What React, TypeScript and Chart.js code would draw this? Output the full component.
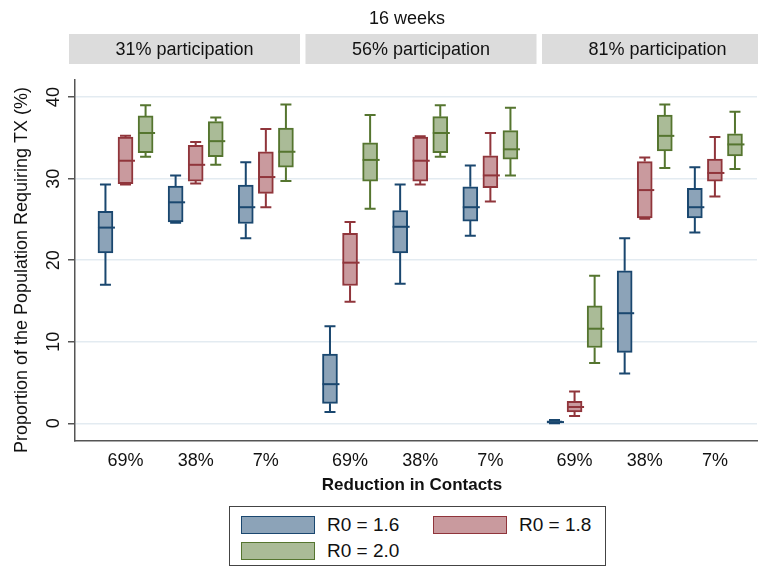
import React, { useEffect, useRef } from "react";
import { Chart, registerables } from "chart.js";

Chart.register(...registerables);

// ---------- DATA ----------
const panelTitle = "16 weeks";
const panels = ["31% participation", "56% participation", "81% participation"];
const reductions = ["69%", "38%", "7%"];
const seriesNames = ["R0 = 1.6", "R0 = 1.8", "R0 = 2.0"];
const yTicks = [0, 10, 20, 30, 40];

// each entry: [min, q1, median, q3, max]; order: panel 1 (69%,38%,7%), panel 2, panel 3
const r0_16 = [
  [17.0, 20.9, 24.0, 26.0, 29.3],
  [24.6, 24.7, 27.1, 29.1, 30.4],
  [22.7, 24.5, 26.5, 29.2, 32.0],
  [1.4, 2.45, 4.8, 8.5, 11.9],
  [17.1, 20.9, 24.1, 26.1, 29.3],
  [23.0, 24.8, 26.5, 29.0, 31.6],
  [0.0, 0.05, 0.15, 0.3, 0.4],
  [6.1, 8.7, 13.5, 18.7, 22.7],
  [23.4, 25.2, 26.5, 28.8, 31.4],
];
const r0_18 = [
  [29.3, 29.4, 32.2, 35.1, 35.25],
  [29.4, 29.7, 31.7, 34.1, 34.5],
  [26.5, 28.2, 30.2, 33.3, 36.1],
  [14.9, 16.9, 19.7, 23.3, 24.7],
  [29.3, 29.7, 32.2, 35.1, 35.2],
  [27.2, 28.9, 30.4, 32.8, 35.6],
  [0.9, 1.4, 2.0, 2.7, 3.9],
  [25.1, 25.2, 28.6, 32.1, 32.6],
  [27.8, 29.7, 30.7, 32.4, 35.1],
];
const r0_20 = [
  [32.7, 33.2, 35.6, 37.7, 39.0],
  [31.7, 32.7, 34.6, 37.0, 37.5],
  [29.7, 31.4, 33.3, 36.2, 39.1],
  [26.3, 29.7, 32.3, 34.4, 37.8],
  [32.7, 33.2, 35.6, 37.6, 39.0],
  [30.4, 32.4, 33.6, 35.9, 38.7],
  [7.4, 9.3, 11.6, 14.4, 18.1],
  [31.3, 33.4, 35.25, 37.8, 39.1],
  [31.2, 32.8, 34.2, 35.5, 38.2],
];

const seriesStats = [r0_16, r0_18, r0_20];

// ---------- STYLE ----------
const FONT = "'Liberation Sans', Arial, Helvetica, sans-serif";
const lineColors = ["#1a476f", "#90353b", "#55752f"];
const fillColors = ["#8ca3b8", "#c99a9e", "#aabb97"];

// layout: x position of a group (panel p, category c) and offset of a series inside the group
const PANEL_STEP = 3.2;
const SERIES_STEP = 0.286;
const groupPos = (i: number) => Math.floor(i / 3) * PANEL_STEP + (i % 3);
const seriesPos = (i: number, s: number) => groupPos(i) + (s - 1) * SERIES_STEP;

const boxPlugin = {
  id: "boxWhiskers",
  beforeDatasetsDraw(chart: any) {
    const ctx = chart.ctx;
    const ys = chart.scales.y;
    chart.data.datasets.forEach((_ds: any, di: number) => {
      const meta = chart.getDatasetMeta(di);
      const stats = seriesStats[di];
      meta.data.forEach((bar: any, i: number) => {
        const [mn, q1, , q3, mx] = stats[i];
        const x = bar.x;
        const cap = 11;
        ctx.save();
        ctx.strokeStyle = lineColors[di];
        ctx.lineWidth = 2;
        ctx.beginPath();
        ctx.moveTo(x, ys.getPixelForValue(q3));
        ctx.lineTo(x, ys.getPixelForValue(mx));
        ctx.moveTo(x - cap / 2, ys.getPixelForValue(mx));
        ctx.lineTo(x + cap / 2, ys.getPixelForValue(mx));
        ctx.moveTo(x, ys.getPixelForValue(q1));
        ctx.lineTo(x, ys.getPixelForValue(mn));
        ctx.moveTo(x - cap / 2, ys.getPixelForValue(mn));
        ctx.lineTo(x + cap / 2, ys.getPixelForValue(mn));
        ctx.stroke();
        ctx.restore();
      });
    });
  },
  afterDatasetsDraw(chart: any) {
    const ctx = chart.ctx;
    const ys = chart.scales.y;
    chart.data.datasets.forEach((_ds: any, di: number) => {
      const meta = chart.getDatasetMeta(di);
      const stats = seriesStats[di];
      meta.data.forEach((bar: any, i: number) => {
        const md = stats[i][2];
        const x = bar.x;
        const w = bar.width;
        const py = ys.getPixelForValue(md);
        ctx.save();
        ctx.strokeStyle = lineColors[di];
        ctx.lineWidth = 2;
        ctx.beginPath();
        ctx.moveTo(x - w / 2, py);
        ctx.lineTo(x + w / 2 + 2, py);
        ctx.stroke();
        ctx.restore();
      });
    });
  },
};

const decorPlugin = {
  id: "decor",
  beforeDraw(chart: any) {
    const ctx = chart.ctx;
    ctx.save();
    ctx.fillStyle = "#ffffff";
    ctx.fillRect(0, 0, chart.width, chart.height);
    // strips
    const stripLeft = 69;
    const stripW = 231;
    const stripGap = 5.5;
    ctx.font = `18px ${FONT}`;
    ctx.textAlign = "center";
    ctx.textBaseline = "middle";
    panels.forEach((label, p) => {
      const x0 = stripLeft + p * (stripW + stripGap);
      ctx.fillStyle = "#dcdcdc";
      ctx.fillRect(x0, 34, stripW, 30);
      ctx.fillStyle = "#111111";
      ctx.fillText(label, x0 + stripW / 2, 50);
    });
    // top title
    ctx.fillText(panelTitle, 407, 19);
    ctx.restore();
  },
  afterDraw(chart: any) {
    const ctx = chart.ctx;
    const ys = chart.scales.y;
    ctx.save();
    ctx.fillStyle = "#111111";
    ctx.textAlign = "center";
    ctx.textBaseline = "middle";
    // rotated y tick labels
    ctx.font = `18px ${FONT}`;
    yTicks.forEach((v) => {
      const py = ys.getPixelForValue(v);
      ctx.save();
      ctx.translate(54, py);
      ctx.rotate(-Math.PI / 2);
      ctx.fillText(String(v), 0, 0);
      ctx.restore();
    });
    // y title
    ctx.save();
    ctx.translate(22, 270);
    ctx.rotate(-Math.PI / 2);
    ctx.font = `18px ${FONT}`;
    ctx.fillText("Proportion of the Population Requiring TX (%)", 0, 0);
    ctx.restore();
    // x title
    ctx.font = `bold 17px ${FONT}`;
    ctx.fillText("Reduction in Contacts", 412, 485);
    ctx.restore();
  },
};

export default function App() {
  const canvasRef = useRef<HTMLCanvasElement | null>(null);

  useEffect(() => {
    if (!canvasRef.current) return;
    const datasets = seriesStats.map((stats, s) => ({
      label: seriesNames[s],
      data: stats.map((st, i) => ({ x: seriesPos(i, s), y: [st[1], st[3]] })),
      backgroundColor: fillColors[s],
      borderColor: lineColors[s],
      borderWidth: 2,
      borderSkipped: false,
      barThickness: 15,
      grouped: false,
    }));
    const chart = new Chart(canvasRef.current, {
      type: "bar",
      data: { datasets: datasets as any },
      plugins: [decorPlugin, boxPlugin],
      options: {
        animation: false,
        responsive: true,
        maintainAspectRatio: false,
        layout: { padding: { top: 80, left: 0, right: 1, bottom: 0 } },
        plugins: {
          legend: { display: false },
          tooltip: { enabled: false },
          title: { display: false },
        },
        scales: {
          x: {
            type: "linear",
            min: -0.72,
            max: 9.0,
            offset: false,
            afterBuildTicks: (scale: any) => {
              scale.ticks = r0_16.map((_, i) => ({ value: groupPos(i) }));
            },
            afterFit: (scale: any) => {
              scale.height = 127;
            },
            ticks: {
              autoSkip: false,
              maxRotation: 0,
              minRotation: 0,
              padding: 9,
              color: "#111111",
              font: { family: FONT, size: 18 },
              callback: (_v: any, index: number) => reductions[index % 3],
            },
            grid: { display: false, drawTicks: false },
            border: { display: true, color: "#555555", width: 1.5 },
          },
          y: {
            type: "linear",
            min: -2.17,
            max: 42.1,
            afterBuildTicks: (scale: any) => {
              scale.ticks = yTicks.map((v) => ({ value: v }));
            },
            afterFit: (scale: any) => {
              scale.width = 75;
            },
            ticks: { display: false },
            grid: {
              color: "#e3ebf1",
              lineWidth: 1.5,
              drawTicks: true,
              tickLength: 7,
              tickColor: "#555555",
              tickWidth: 1.5,
            },
            border: { display: true, color: "#555555", width: 1.5 },
          },
        },
      } as any,
    });
    return () => chart.destroy();
  }, []);

  const legendItem = (s: number, left: number, top: number) => (
    <div key={s} style={{ position: "absolute", left, top, display: "flex", alignItems: "center" }}>
      <div
        style={{
          width: 72,
          height: 16,
          background: fillColors[s],
          border: `1.5px solid ${lineColors[s]}`,
        }}
      />
      <span style={{ marginLeft: 12, fontSize: 19, color: "#111", fontFamily: FONT, lineHeight: "19px" }}>
        {seriesNames[s]}
      </span>
    </div>
  );

  return (
    <div style={{ position: "absolute", left: 0, top: 0, width: 758, height: 568, background: "#fff" }}>
      <canvas ref={canvasRef} />
      <div
        style={{
          position: "absolute",
          left: 229,
          top: 506,
          width: 377,
          height: 60,
          border: "1px solid #444",
          boxSizing: "border-box",
          background: "#fff",
        }}
      >
        {legendItem(0, 11, 8)}
        {legendItem(1, 203, 8)}
        {legendItem(2, 11, 34)}
      </div>
    </div>
  );
}
